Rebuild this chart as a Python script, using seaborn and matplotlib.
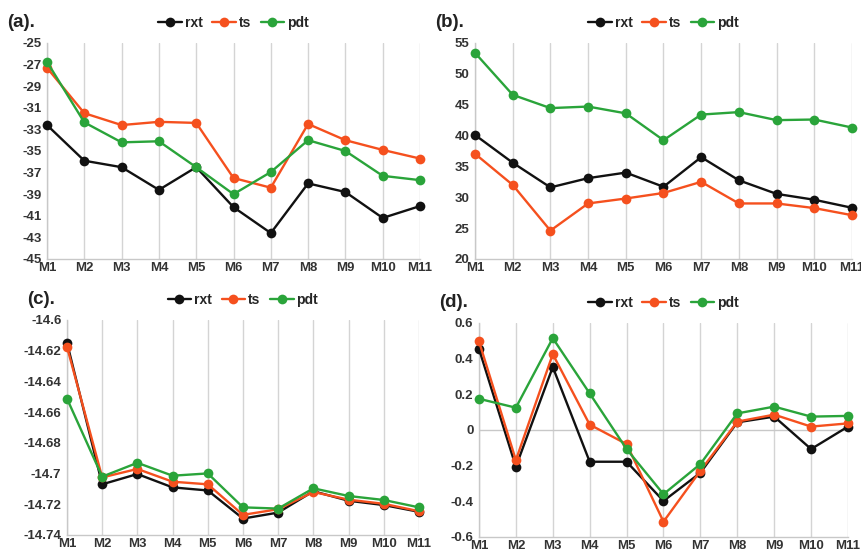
import pandas as pd
import seaborn as sns
import matplotlib.pyplot as plt

# Data
months = ['M1', 'M2', 'M3', 'M4', 'M5', 'M6', 'M7', 'M8', 'M9', 'M10', 'M11']
series = ['rxt', 'ts', 'pdt']

a_rxt = [-32.6, -35.9, -36.5, -38.6, -36.5, -40.2, -42.6, -38.0, -38.8, -41.2, -40.1]
a_ts = [-27.3, -31.5, -32.6, -32.3, -32.4, -37.5, -38.4, -32.5, -34.0, -34.9, -35.7]
a_pdt = [-26.75, -32.35, -34.2, -34.1, -36.5, -39.0, -36.95, -34.0, -35.0, -37.3, -37.7]

b_rxt = [40.1, 35.6, 31.6, 33.1, 34.0, 31.7, 36.5, 32.75, 30.55, 29.6, 28.3]
b_ts = [37.05, 32.0, 24.6, 29.0, 29.8, 30.7, 32.5, 29.0, 29.0, 28.25, 27.1]
b_pdt = [53.4, 46.6, 44.45, 44.7, 43.6, 39.25, 43.4, 43.8, 42.5, 42.6, 41.3]

c_rxt = [-14.6148, -14.707, -14.7003, -14.709, -14.711, -14.7293, -14.7254, -14.7115, -14.7177, -14.7205, -14.7249]
c_ts = [-14.6174, -14.7025, -14.697, -14.7053, -14.707, -14.7269, -14.7232, -14.712, -14.717, -14.7197, -14.7245]
c_pdt = [-14.6512, -14.702, -14.693, -14.7014, -14.6999, -14.722, -14.7228, -14.7096, -14.7146, -14.7172, -14.722]

d_rxt = [0.455, -0.206, 0.353, -0.178, -0.178, -0.398, -0.24, 0.043, 0.075, -0.107, 0.019]
d_ts = [0.497, -0.169, 0.425, 0.03, -0.079, -0.514, -0.229, 0.047, 0.086, 0.019, 0.037]
d_pdt = [0.175, 0.125, 0.515, 0.205, -0.107, -0.36, -0.191, 0.093, 0.131, 0.075, 0.079]

palette = {'rxt': '#111111', 'ts': '#f5501e', 'pdt': '#2aa43a'}

panels = [
    ('(a).', [a_rxt, a_ts, a_pdt], (-45, -25), list(range(-45, -24, 2)),
     [0.0546, 0.5325, 0.4332, 0.3899]),
    ('(b).', [b_rxt, b_ts, b_pdt], (20, 55), list(range(20, 56, 5)),
     [0.5517, 0.5325, 0.4378, 0.3899]),
    ('(c).', [c_rxt, c_ts, c_pdt], (-14.74, -14.6),
     [-14.74, -14.72, -14.70, -14.68, -14.66, -14.64, -14.62, -14.60],
     [0.0778, 0.0343, 0.4088, 0.3881]),
    ('(d).', [d_rxt, d_ts, d_pdt], (-0.6, 0.6), [-0.6, -0.4, -0.2, 0, 0.2, 0.4, 0.6],
     [0.5563, 0.0307, 0.4286, 0.3863]),
]

sns.set_style('white')
plt.rcParams['font.family'] = ['Liberation Sans', 'DejaVu Sans']

fig = plt.figure(figsize=(8.61, 5.54), dpi=100)

for label, values, ylim, yticks, rect in panels:
    ax = fig.add_axes(rect)
    df = pd.DataFrame({
        'month': months * 3,
        'value': values[0] + values[1] + values[2],
        'series': [s for s in series for _ in months],
    })
    sns.lineplot(data=df, x='month', y='value', hue='series', hue_order=series,
                 palette=palette, marker='o', markersize=7, markeredgewidth=0,
                 linewidth=1.7, sort=False, ax=ax, clip_on=False, zorder=3)

    ax.set_xlim(0, len(months) - 1)
    ax.set_ylim(*ylim)
    ax.set_yticks(yticks)
    ax.set_yticklabels(['{:g}'.format(round(t, 2)) for t in yticks])
    ax.set_xlabel('')
    ax.set_ylabel('')
    for x in range(len(months)):
        ax.axvline(x, color='#d4d4d4', lw=1, zorder=0)
    if label == '(d).':
        ax.axhline(0, color='#c8c8c8', lw=1, zorder=0)
    for side in ['top', 'right']:
        ax.spines[side].set_visible(False)
    for side in ['left', 'bottom']:
        ax.spines[side].set_color('#c8c8c8')
        ax.spines[side].set_linewidth(1)
    ax.tick_params(axis='y', length=3, color='#c8c8c8', pad=1,
                   labelsize=9.5, labelcolor='#333333')
    ax.tick_params(axis='x', length=0, pad=2,
                   labelsize=9.5, labelcolor='#333333')
    for t in ax.get_xticklabels() + ax.get_yticklabels():
        t.set_fontweight('bold')

    handles, labels = ax.get_legend_handles_labels()
    ax.legend(handles, labels, loc='lower center', bbox_to_anchor=(0.5, 1.035),
              ncol=3, frameon=False, handlelength=1.7, handletextpad=0.2,
              columnspacing=0.7, borderaxespad=0, prop={'weight': 'bold', 'size': 10})

    fig.text(rect[0] - 0.046, rect[1] + rect[3] + 0.022, label, fontsize=13.5,
             fontweight='bold', color='#222222', ha='left', va='bottom')

fig.savefig('out.png', dpi=100)
